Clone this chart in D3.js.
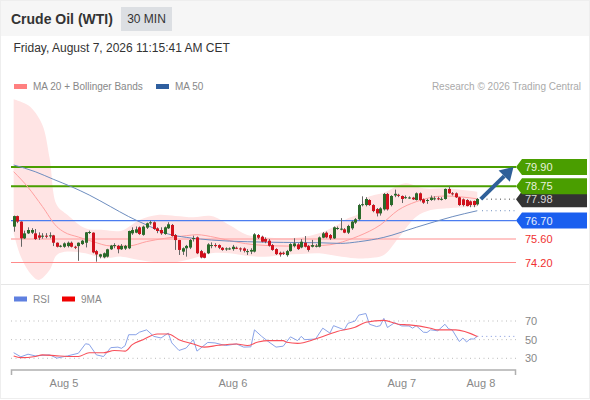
<!DOCTYPE html>
<html><head><meta charset="utf-8">
<script src="https://cdn.jsdelivr.net/npm/d3@7"></script>
<style>html,body{margin:0;padding:0;background:#fff}svg{display:block}text{font-family:"Liberation Sans",Arial,sans-serif}</style>
</head><body><svg id="c" width="590" height="400"></svg>
<script>
const opens=[76.34,76.97,76.64,75.64,75.94,75.98,75.94,75.82,75.78,75.80,75.80,75.82,75.38,75.16,75.14,75.18,75.38,75.14,75.18,75.30,75.38,76.00,75.98,74.88,74.55,74.51,74.55,74.99,75.20,75.19,74.99,75.03,75.05,75.94,75.98,76.30,75.85,76.28,76.58,76.60,76.24,76.14,75.90,76.24,76.44,75.84,75.54,74.85,75.05,75.09,75.64,75.70,74.88,74.75,74.75,75.20,75.24,75.24,75.08,75.00,75.02,75.00,75.08,75.04,75.04,74.86,74.85,74.85,75.84,75.74,75.60,75.50,75.24,75.00,74.78,74.78,74.64,74.88,75.18,75.28,75.10,75.38,75.18,75.14,75.18,75.14,75.68,75.98,75.84,75.64,76.24,76.20,76.18,75.98,76.24,76.58,76.78,77.66,77.63,77.93,77.63,77.39,77.13,77.37,78.29,77.63,78.20,78.24,78.17,78.08,78.06,78.07,77.93,78.33,77.97,77.90,77.93,77.99,78.03,77.98,77.99,78.59,78.33,78.33,78.09,77.97,77.93,77.85,77.87,77.67];
const highs=[77.00,77.00,76.66,76.10,76.30,76.25,76.20,76.00,75.95,75.95,76.00,75.85,75.40,75.25,75.40,75.45,75.45,75.20,75.40,75.55,76.02,76.10,76.00,74.95,74.72,74.80,75.02,75.25,75.35,75.25,75.30,75.25,76.10,76.30,76.35,76.35,76.40,76.58,76.70,76.65,76.30,76.30,76.35,76.60,76.50,75.90,75.55,75.10,75.25,75.60,75.80,75.75,74.95,74.80,75.35,75.40,75.35,75.28,75.12,75.10,75.10,75.25,75.15,75.10,75.10,75.00,75.05,75.95,75.90,75.80,75.70,75.60,75.30,75.05,74.85,74.85,74.95,75.35,75.65,75.35,75.60,75.78,75.25,75.55,75.30,75.75,76.02,76.05,75.90,76.35,76.35,76.85,76.25,76.45,76.70,76.85,77.70,78.15,78.10,77.98,77.68,77.45,77.50,78.35,78.35,78.22,78.55,78.30,78.20,78.20,78.15,78.12,78.38,78.38,78.02,78.00,78.20,78.15,78.12,78.10,78.62,78.75,78.40,78.38,78.12,78.02,77.98,77.90,77.90,78.05];
const lows=[76.04,76.55,75.14,75.60,75.90,75.90,75.55,75.55,75.62,75.65,75.65,75.18,75.10,75.10,75.08,75.10,75.10,75.00,74.30,75.25,75.10,75.90,74.75,74.25,74.45,74.45,74.50,74.95,75.05,74.75,74.95,74.95,75.00,75.85,75.95,75.85,75.80,76.20,76.45,76.15,75.95,75.85,75.85,76.20,75.75,74.95,74.65,74.65,74.55,75.00,75.45,74.70,74.45,74.45,74.70,75.05,75.10,75.00,74.90,74.90,74.95,74.90,75.00,74.85,74.80,74.65,74.70,74.80,75.60,75.40,75.35,75.15,74.90,74.65,74.55,74.65,74.55,74.85,75.10,74.95,75.05,75.10,74.85,75.10,75.10,75.10,75.65,75.65,75.55,75.60,76.15,76.12,75.95,75.90,76.15,76.50,76.70,77.55,77.55,77.58,77.20,76.95,77.00,77.30,77.30,77.55,78.10,78.10,77.75,78.00,78.00,77.93,77.90,77.85,77.70,77.70,77.88,77.90,77.92,77.90,77.95,78.30,78.20,78.05,77.58,77.55,77.55,77.50,77.50,77.60];
const closes=[76.97,76.64,75.64,75.94,76.14,76.14,75.60,75.68,75.80,75.78,75.82,75.38,75.14,75.20,75.34,75.38,75.14,75.12,75.38,75.50,76.00,76.02,74.80,74.68,74.69,74.75,74.99,75.21,75.24,74.99,75.19,75.19,76.08,76.14,76.18,75.90,76.34,76.54,76.60,76.20,76.08,75.94,76.30,76.48,75.78,75.54,74.95,75.05,75.19,75.54,75.66,74.75,74.50,74.48,75.28,75.24,75.22,75.08,74.95,75.04,75.04,75.14,75.06,74.98,74.90,74.88,74.95,75.88,75.68,75.44,75.44,75.20,74.95,74.70,74.68,74.76,74.88,75.30,75.34,75.00,75.44,75.14,74.95,75.24,75.20,75.70,75.94,75.70,75.64,76.30,76.26,76.22,75.98,76.38,76.64,76.78,77.63,77.68,77.99,77.63,77.27,77.13,77.43,78.29,77.37,78.17,78.30,78.20,77.99,78.10,78.08,77.97,78.33,77.93,77.77,77.93,78.07,78.03,78.00,78.00,78.59,78.33,78.27,78.09,77.63,77.63,77.57,77.63,77.63,77.99];

const upperIdx=[0,3,5,8,10,12,15,20,25,30,35,40,45,50,55,60,65,70,75,80,85,90,93,96,98,103,109,114,120,125,129];
const upperVal=[83.94,83.70,83.41,82.41,80.42,77.63,77.04,76.24,76.14,76.10,76.74,77.04,76.98,76.90,76.97,76.44,75.84,75.70,75.64,75.70,75.94,76.44,76.84,77.13,78.03,78.37,78.93,78.63,78.63,78.53,78.43];
const lowerIdx=[0,2,5,7,10,12,15,20,25,30,35,40,45,50,55,60,65,70,75,80,85,90,95,98,103,107,112,116,120,129];
const lowerVal=[75.94,74.55,73.46,73.16,73.75,74.65,74.85,74.75,74.45,74.55,74.35,74.21,74.21,74.45,74.75,74.75,74.59,74.55,74.65,74.70,74.75,74.59,74.45,74.45,74.65,75.64,76.93,77.33,77.43,77.53];
const ma20Idx=[0,4,8,12,14,18,22,27,32,37,42,48,51,56,62,67,76,86,90,93,96,102,107,112,120,129];
const ma20Val=[79.62,78.69,77.54,76.34,76.02,75.72,75.45,75.19,75.19,75.45,75.64,75.80,75.86,75.70,75.42,75.26,75.18,75.22,75.34,75.54,75.78,76.44,77.33,77.83,78.17,78.00];
const ma50Idx=[0,6,11,16,21,27,32,37,43,48,52,55,65,75,85,91,96,103,112,122,129];
const ma50Val=[80.02,79.62,79.17,78.73,78.23,77.53,76.94,76.44,75.90,75.70,75.60,75.54,75.44,75.40,75.38,75.34,75.44,75.70,76.30,76.93,77.29];
const rsiIdx=[0,2,4,6,10,12,15,18,20,21,23,25,27,29,30,31,32,34,35,37,39,41,43,44,46,48,50,51,54,56,59,62,64,66,67,69,71,73,75,76,77,79,80,81,84,86,88,89,92,93,95,96,98,99,101,102,103,104,106,108,110,111,112,114,115,116,118,120,121,122,124,125,126,127,128,129];
const rsiVal=[36,31.6,34.4,32.6,33.7,30.2,32.6,35.4,45.6,44.9,33.7,31.9,41.4,42,40.7,43.5,55.3,55.3,58,60.5,53.5,51.8,57,46.5,38.4,41,50,37.7,47,46.5,43.7,45.4,42,42.3,60.5,53.5,47.5,42,43,48,53,49,53.5,50,50.7,62.3,57,65,60.5,67.5,70,76.3,78,66.5,64,65,72.8,63,68.2,64.7,64.7,62.3,65,58,57.7,60.5,59.5,66.5,61.6,60.5,48,51.8,47.5,50.7,50.7,53.5];
const maRsiIdx=[0,2,6,8,12,15,18,21,25,28,31,33,36,40,43,46,50,53,57,62,65,68,71,75,76,79,84,90,95,98,103,107,110,116,118,123,129];
const maRsiVal=[32.5,30.7,32,33.7,32.6,32,32,35.9,35.9,38.4,37.7,44.7,50,56,56,50,45.4,42,44,45.4,43.7,47.5,49,49,47.2,46,50.7,58.8,63.3,68.6,70.7,66.5,65.8,62.3,60.5,60.5,53.5];

const levelValues=[79.90,78.75,76.70,75.60,74.20];
const levelLabels=["79.90","78.75","76.70","75.60","74.20"];
const lastPrice=77.98, lastLabel="77.98", ma50Last=77.29, rsiLast=53.5;
const rsiTicks=[70,50,30];
const dateLabels=["Aug 5","Aug 6","Aug 7","Aug 8"];
const dateIdx=[14,61,108,130];

const svg=d3.select("#c");
const x=d3.scaleLinear().domain([0,129]).range([13.67,477.3]);
const y=d3.scaleLinear().domain([74.2,79.9]).range([262.5,167]);
const r=d3.scaleLinear().domain([30,70]).range([358.3,321]);
const left=11,lineEnd=516;

svg.append("rect").attr("width",590).attr("height",400).attr("fill","#fff");
svg.append("rect").attr("width",590).attr("height",36).attr("fill","#f6f6f6");
svg.append("rect").attr("x",0.5).attr("y",0.5).attr("width",589).attr("height",398).attr("fill","none").attr("stroke","#eeeeee");
svg.append("line").attr("x1",1).attr("x2",589).attr("y1",284.5).attr("y2",284.5).attr("stroke","#e6e6e6");
svg.append("text").text("Crude Oil (WTI)").attr("x",11).attr("y",24).attr("font-size",14).attr("font-weight","bold").attr("fill","#333");
svg.append("rect").attr("x",121).attr("y",7).attr("width",51).attr("height",24).attr("fill","#dcdfe3");
svg.append("text").text("30 MIN").attr("x",146.5).attr("y",23).attr("text-anchor","middle").attr("font-size",12).attr("fill","#333");
svg.append("text").text("Friday, August 7, 2026 11:15:41 AM CET").attr("x",13.5).attr("y",52).attr("font-size",12).attr("fill","#333");

function legend(sx,ty,col,label,tx){
  svg.append("rect").attr("x",sx).attr("y",ty-2.5).attr("width",13).attr("height",5).attr("fill",col);
  svg.append("text").text(label).attr("x",tx).attr("y",ty+3.5).attr("font-size",10).attr("fill","#888");
}
legend(14,86.5,"#ff8080","MA 20 + Bollinger Bands",33);
legend(156,86.5,"#2f5f9f","MA 50",175);
legend(14,299,"#5f80e0","RSI",33);
legend(62,299,"#f00000","9MA",81);
svg.append("text").text("Research © 2026 Trading Central").attr("x",581).attr("y",90).attr("text-anchor","end").attr("font-size",10).attr("fill","#aaa");

const zip=(a,b)=>a.map((v,i)=>[v,b[i]]);
const crv=d3.line().x(d=>x(d[0])).y(d=>y(d[1])).curve(d3.curveCatmullRom.alpha(0.5));
const up=crv(zip(upperIdx,upperVal));
const lo=crv(zip(lowerIdx,lowerVal).reverse());
svg.append("path").attr("d",up+"L"+lo.slice(1)+"Z").attr("fill","#ffe4e4");

const levelStyle=[["#4a9e00",2],["#4a9e00",2],["#4a7cf0",1.2],["#ffb3b3",1.5],["#ff8a8a",1.2]];
levelValues.forEach((v,i)=>{
  svg.append("line").attr("x1",left).attr("x2",lineEnd).attr("y1",y(v)).attr("y2",y(v))
    .attr("stroke",levelStyle[i][0]).attr("stroke-width",levelStyle[i][1]);
});

svg.append("path").attr("d",d3.line().x(d=>x(d[0])).y(d=>y(d[1])).curve(d3.curveMonotoneX)(zip(ma20Idx,ma20Val))).attr("fill","none").attr("stroke","#ffa0a0").attr("stroke-width",1);
svg.append("path").attr("d",d3.line().x(d=>x(d[0])).y(d=>y(d[1])).curve(d3.curveMonotoneX)(zip(ma50Idx,ma50Val))).attr("fill","none").attr("stroke","#6d8dbf").attr("stroke-width",1);

const cg=svg.append("g");
closes.forEach((c,i)=>{
  const o=opens[i],hi=highs[i],lw=lows[i],cx=Math.round(x(i))+0.5;
  cg.append("line").attr("x1",cx).attr("x2",cx).attr("y1",y(hi)).attr("y2",y(lw)).attr("stroke","#666").attr("stroke-width",1);
  const top=y(Math.max(o,c)),bot=y(Math.min(o,c));
  cg.append("rect").attr("x",cx-1.5).attr("width",3).attr("y",top).attr("height",Math.max(1,bot-top))
    .attr("fill",c>=o?"#2a6a2a":"#d0101c");
});

svg.append("line").attr("x1",482).attr("x2",lineEnd).attr("y1",y(lastPrice)).attr("y2",y(lastPrice)).attr("stroke","#444").attr("stroke-width",1).attr("stroke-dasharray","1 3.5");
svg.append("line").attr("x1",482).attr("x2",lineEnd).attr("y1",y(ma50Last)).attr("y2",y(ma50Last)).attr("stroke","#6d8dbf").attr("stroke-width",1).attr("stroke-dasharray","1 3.5");

function tag(v,label,col,txt){
  const cy=y(v);
  if(col){
    svg.append("path").attr("d",`M516,${cy}L522,${cy-8}H587V${cy+8}H522Z`).attr("fill",col);
  }
  svg.append("text").text(label).attr("x",525).attr("y",cy+4).attr("font-size",11).attr("fill",txt);
}
tag(lastPrice,lastLabel,"#333333","#d8d8d8");
tag(levelValues[0],levelLabels[0],"#4a9e00","#e8f2dc");
tag(levelValues[1],levelLabels[1],"#4a9e00","#e8f2dc");
tag(levelValues[2],levelLabels[2],"#1a5fef","#e6eefd");
tag(levelValues[3],levelLabels[3],null,"#f03030");
tag(levelValues[4],levelLabels[4],null,"#f03030");

const ax0=x(129)+3.5,ay0=y(lastPrice),ax1=513.5,ay1=y(levelValues[0]);
const ang=Math.atan2(ay1-ay0,ax1-ax0),hl=13,hw=8;
const bx=ax1-hl*Math.cos(ang),by=ay1-hl*Math.sin(ang),nx=-Math.sin(ang),ny=Math.cos(ang);
svg.append("line").attr("x1",ax0).attr("y1",ay0).attr("x2",bx).attr("y2",by).attr("stroke","#2f6099").attr("stroke-width",4);
svg.append("path").attr("d",`M${ax1},${ay1}L${bx+nx*hw},${by+ny*hw}L${bx-nx*hw},${by-ny*hw}Z`).attr("fill","#2f6099");

rsiTicks.forEach(t=>{
  svg.append("line").attr("x1",left).attr("x2",lineEnd).attr("y1",r(t)).attr("y2",r(t)).attr("stroke","#bbb").attr("stroke-width",1).attr("stroke-dasharray","1 3.5");
  svg.append("text").text(t).attr("x",525).attr("y",r(t)+4).attr("font-size",11).attr("fill","#888");
});
svg.append("line").attr("x1",x(129)).attr("x2",lineEnd).attr("y1",r(rsiLast)).attr("y2",r(rsiLast)).attr("stroke","#7f95dd").attr("stroke-width",1).attr("stroke-dasharray","1 3.5");
svg.append("path").attr("d",d3.line().x(d=>x(d[0])).y(d=>r(d[1])).curve(d3.curveLinear)(zip(rsiIdx,rsiVal))).attr("fill","none").attr("stroke","#8aa3e8").attr("stroke-width",1);
svg.append("path").attr("d",d3.line().x(d=>x(d[0])).y(d=>r(d[1])).curve(d3.curveMonotoneX)(zip(maRsiIdx,maRsiVal))).attr("fill","none").attr("stroke","#f8505a").attr("stroke-width",1.1);

svg.append("path").attr("d",`M${left+.5},375V370H${lineEnd-.5}V375`).attr("fill","none").attr("stroke","#b0b0b0").attr("stroke-width",1.5);
dateLabels.forEach((l,i)=>{
  svg.append("text").text(l).attr("x",x(dateIdx[i])).attr("y",387).attr("text-anchor","middle").attr("font-size",11).attr("fill","#888");
});
</script></body></html>
